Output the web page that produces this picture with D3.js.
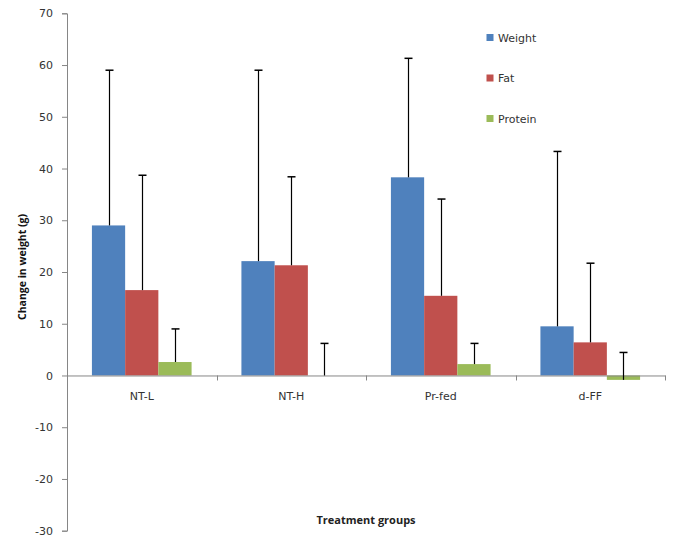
<!DOCTYPE html>
<html><head><meta charset="utf-8">
<script src="https://cdn.jsdelivr.net/npm/d3@7/dist/d3.min.js"></script>
<style>body{margin:0;background:#fff}svg{display:block}</style>
</head><body>
<svg id="c" width="685" height="548"></svg>
<script>
const categories = ["NT-L", "NT-H", "Pr-fed", "d-FF"];
const seriesNames = ["Weight", "Fat", "Protein"];
const weightValues = [29.0, 22.1, 38.3, 9.5];
const fatValues = [16.5, 21.3, 15.4, 6.4];
const proteinValues = [2.6, 0.0, 2.2, -0.85];
const weightErr = [30.0, 36.9, 23.0, 33.8];
const fatErr = [22.2, 17.1, 18.7, 15.3];
const proteinErr = [6.4, 6.2, 4.0, 5.3];
const yTicks = [-30, -20, -10, 0, 10, 20, 30, 40, 50, 60, 70];
const colors = ["#4F81BD", "#C0504D", "#9BBB59"];

const values = [weightValues, fatValues, proteinValues];
const errs = [weightErr, fatErr, proteinErr];

const svg = d3.select("#c");
const L = 67, R = 665, T = 13.3, B = 530.7;
const x = d3.scaleBand().domain(categories).range([L, R]).paddingInner(0).paddingOuter(0);
const inner = d3.scaleBand().domain(seriesNames).range([0, x.bandwidth()]).paddingInner(0).paddingOuter(0.75);
const y = d3.scaleLinear().domain([-30, 70]).range([B, T]);

// y axis
const yAxis = d3.axisLeft(y).tickValues(yTicks).tickSize(5).tickPadding(9).tickFormat((d) => String(d));
const yg = svg.append("g").attr("transform", `translate(${L},0)`).call(yAxis);
yg.select(".domain").attr("stroke", "#868686");
yg.selectAll(".tick line").attr("stroke", "#868686");
yg.selectAll(".tick text").attr("fill", "#333").attr("font-family", "DejaVu Sans, Verdana, sans-serif").attr("font-size", 11);

// bars
seriesNames.forEach((s, si) => {
  svg.append("g").selectAll("rect").data(categories).join("rect")
    .attr("x", (c) => x(c) + inner(s))
    .attr("width", inner.bandwidth())
    .attr("y", (c, i) => y(Math.max(0, values[si][i])))
    .attr("height", (c, i) => Math.abs(y(values[si][i]) - y(0)))
    .attr("fill", colors[si]);
});

// x axis at zero
const xAxis = d3.axisBottom(x).tickSize(0).tickFormat("");
const xg = svg.append("g").attr("transform", `translate(0,${y(0)})`).call(xAxis);
xg.select(".domain").attr("stroke", "#868686");
const bounds = categories.map((c) => x(c)).concat([R]);
svg.append("g").selectAll("line").data(bounds.slice(1)).join("line")
  .attr("x1", (d) => Math.round(d) + 0.5).attr("x2", (d) => Math.round(d) + 0.5)
  .attr("y1", y(0)).attr("y2", y(0) + 5).attr("stroke", "#868686");
svg.append("g").selectAll("text").data(categories).join("text")
  .attr("x", (c) => x(c) + x.bandwidth() / 2).attr("y", y(0) + 25)
  .attr("text-anchor", "middle").attr("fill", "#333")
  .attr("font-family", "DejaVu Sans, Verdana, sans-serif").attr("font-size", 11)
  .text((c) => c);

// error bars (plus only)
seriesNames.forEach((s, si) => {
  const g = svg.append("g");
  categories.forEach((c, i) => {
    const cx = Math.round(x(c) + inner(s) + inner.bandwidth() / 2) + 0.5;
    const v = values[si][i], top = v + errs[si][i];
    g.append("line").attr("x1", cx).attr("x2", cx).attr("y1", y(v)).attr("y2", y(top)).attr("stroke", "#000").attr("stroke-width", 1.2);
    g.append("line").attr("x1", cx - 4).attr("x2", cx + 4).attr("y1", y(top)).attr("y2", y(top)).attr("stroke", "#000").attr("stroke-width", 1.5);
  });
});

// legend
const lg = svg.append("g");
seriesNames.forEach((s, si) => {
  const ly = 37.5 + si * 40.5;
  lg.append("rect").attr("x", 486.5).attr("y", ly - 3.5).attr("width", 7).attr("height", 7).attr("fill", colors[si]);
  lg.append("text").attr("x", 498).attr("y", ly + 4).attr("fill", "#333")
    .attr("font-family", "DejaVu Sans, Verdana, sans-serif").attr("font-size", 11).text(s);
});

// axis titles
svg.append("text").attr("transform", `translate(26,${(T + B) / 2 - 5}) rotate(-90)`)
  .attr("text-anchor", "middle").attr("font-family", "Open Sans, Lato, sans-serif").attr("font-weight", "bold")
  .attr("font-size", 10.5).attr("fill", "#111").text("Change in weight (g)");
svg.append("text").attr("x", 366).attr("y", 524)
  .attr("text-anchor", "middle").attr("font-family", "Open Sans, Lato, sans-serif").attr("font-weight", "bold")
  .attr("font-size", 11).attr("fill", "#222").text("Treatment groups");
</script>
</body></html>
